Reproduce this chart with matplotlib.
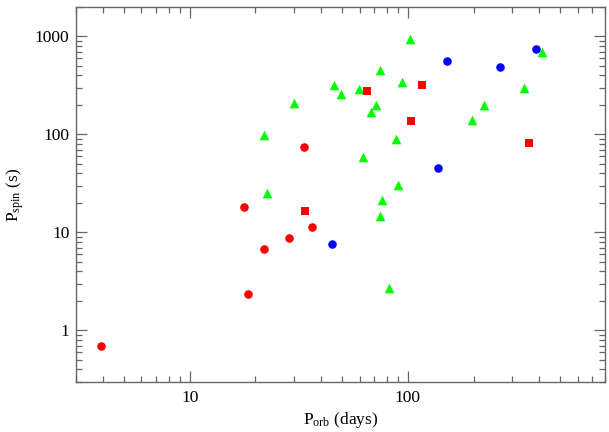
import matplotlib
matplotlib.use("Agg")
import matplotlib.pyplot as plt
from matplotlib.ticker import LogLocator, FixedLocator, NullFormatter

plt.rcParams['font.family'] = ['Liberation Serif', 'DejaVu Serif']
plt.rcParams['mathtext.fontset'] = 'custom'
plt.rcParams['mathtext.rm'] = 'Liberation Serif'
plt.rcParams['mathtext.it'] = 'Liberation Serif:italic'

# red circles
red_circ_porb = [3.9, 17.8, 18.4, 21.9, 28.5, 33.4, 36.5]
red_circ_pspin = [0.70, 18.4, 2.33, 6.8, 8.8, 74, 11.3]

# red squares
red_sq_porb = [33.7, 65.0, 103, 116, 359]
red_sq_pspin = [16.5, 279, 137, 321, 81.5]

# blue circles
blue_porb = [45.0, 137, 151, 264, 388]
blue_pspin = [7.7, 46, 560, 494, 749]

# green triangles
green_porb = [22.0, 22.5, 30.0, 45.9, 49.1, 59.7, 62.1, 67.8, 71.7, 74.3,
              74.8, 75.8, 82.2, 88.1, 90.4, 94.3, 101.8, 197, 223, 342, 411]
green_pspin = [99, 25.2, 211, 321, 260, 288, 58.6, 169, 198, 14.9,
               450, 21.7, 2.70, 90, 30.7, 342, 948, 139, 198, 299, 692]

fig = plt.figure(figsize=(6.09, 4.32), dpi=100)
ax = fig.add_axes([0.1243, 0.1164, 0.8691, 0.8674])

ax.scatter(green_porb, green_pspin, marker='^', s=48, color='#00ff00', linewidths=0, zorder=3)
ax.scatter(red_circ_porb, red_circ_pspin, marker='o', s=38, color='#ff0000', linewidths=0, zorder=3)
ax.scatter(red_sq_porb, red_sq_pspin, marker='s', s=36, color='#ff0000', linewidths=0, zorder=3)
ax.scatter(blue_porb, blue_pspin, marker='o', s=38, color='#0000ff', linewidths=0, zorder=3)

ax.set_xscale('log')
ax.set_yscale('log')
ax.set_xlim(3, 800)
ax.set_ylim(0.3, 2000)

ax.xaxis.set_major_locator(FixedLocator([10, 100]))
ax.xaxis.set_minor_locator(LogLocator(base=10, subs=range(2, 10)))
ax.xaxis.set_minor_formatter(NullFormatter())
ax.set_xticklabels(['10', '100'])
ax.yaxis.set_major_locator(FixedLocator([1, 10, 100, 1000]))
ax.yaxis.set_minor_locator(LogLocator(base=10, subs=range(2, 10)))
ax.yaxis.set_minor_formatter(NullFormatter())
ax.set_yticklabels(['1', '10', '100', '1000'])

gray = '0.4'
for sp in ax.spines.values():
    sp.set_color(gray)
    sp.set_linewidth(1.0)
ax.tick_params(which='both', direction='in', top=True, right=True, colors=gray,
               labelcolor='black', labelsize=12.5, width=0.9)
ax.tick_params(which='major', length=8)
ax.tick_params(which='minor', length=4.5)
ax.tick_params(axis='x', which='major', pad=6)
ax.tick_params(axis='y', which='major', pad=4.5)

ax.set_xlabel(r'P$_{\rm orb}$ (days)', fontsize=12.5, labelpad=3)
ax.set_ylabel(r'P$_{\rm spin}$ (s)', fontsize=12.5, labelpad=6)

fig.savefig('out.png', dpi=100)
